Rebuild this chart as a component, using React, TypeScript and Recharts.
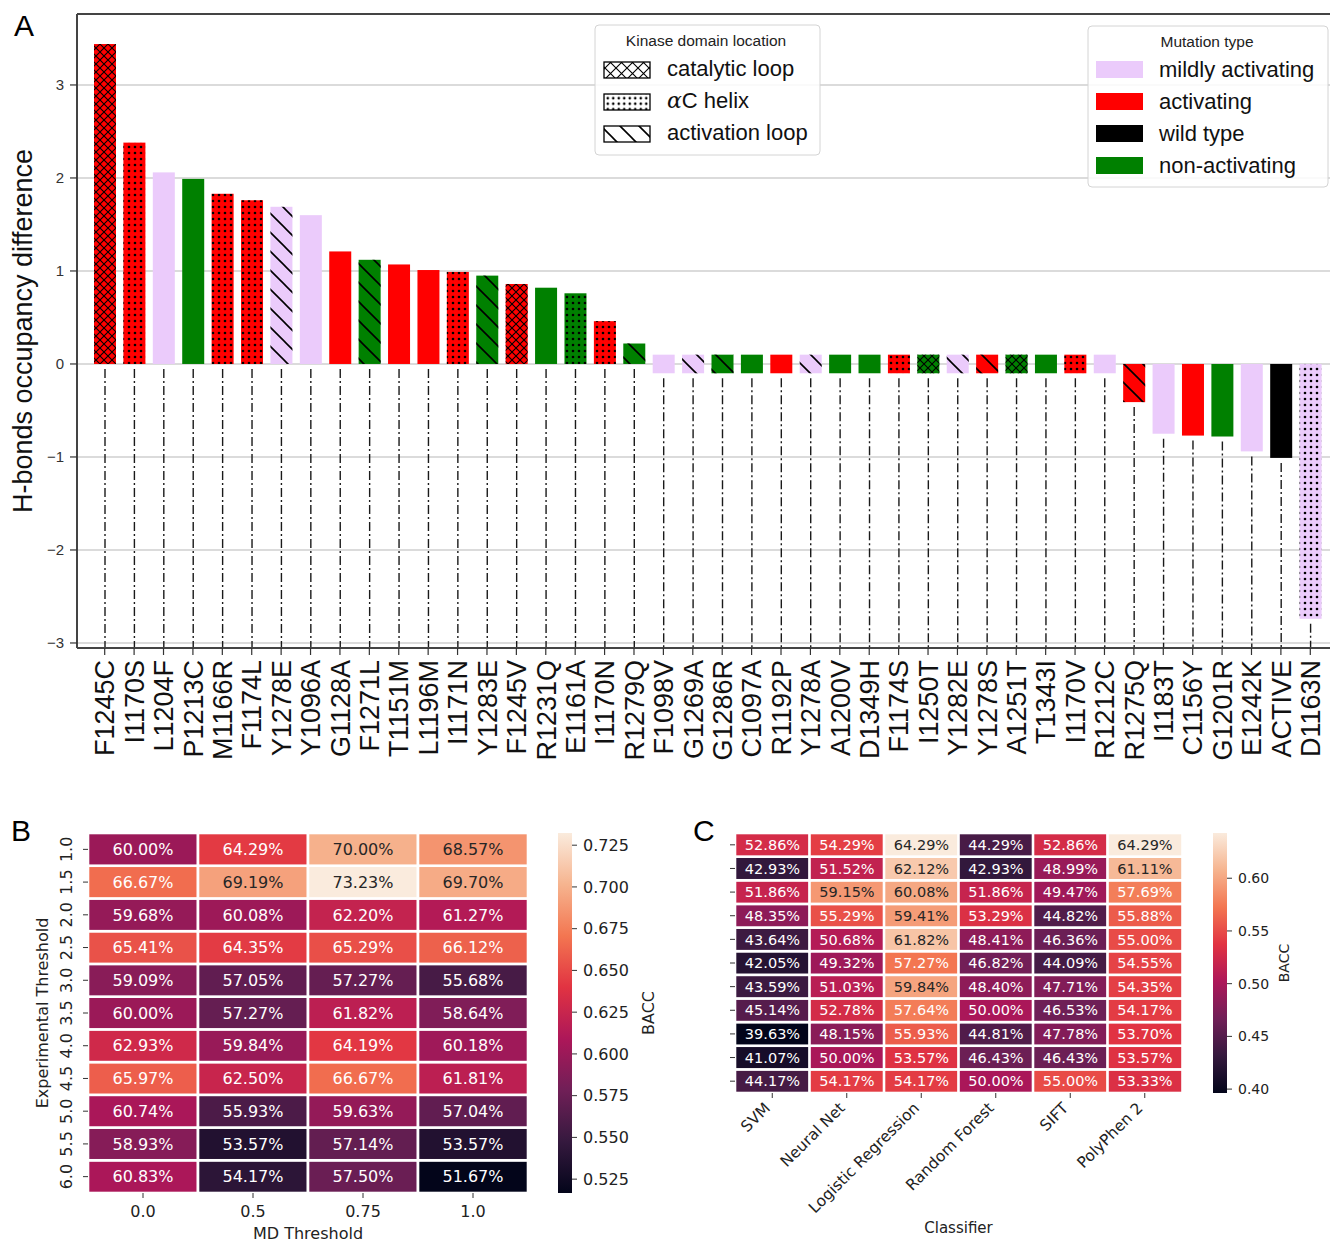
import React from 'react';
import { BarChart, Bar, XAxis, YAxis, CartesianGrid, ReferenceLine } from 'recharts';

// ---------- panel A ----------
const mutations = [
  'F1245C', 'I1170S', 'L1204F', 'P1213C', 'M1166R', 'F1174L', 'Y1278E', 'Y1096A', 'G1128A', 'F1271L',
  'T1151M', 'L1196M', 'I1171N', 'Y1283E', 'F1245V', 'R1231Q', 'E1161A', 'I1170N', 'R1279Q', 'F1098V',
  'G1269A', 'G1286R', 'C1097A', 'R1192P', 'Y1278A', 'A1200V', 'D1349H', 'F1174S', 'I1250T', 'Y1282E',
  'Y1278S', 'A1251T', 'T1343I', 'I1170V', 'R1212C', 'R1275Q', 'I1183T', 'C1156Y', 'G1201R', 'E1242K',
  'ACTIVE', 'D1163N',
];

const hbondDiff = [
  3.44, 2.38, 2.06, 1.99, 1.83, 1.76, 1.69, 1.6, 1.21, 1.12,
  1.07, 1.01, 0.99, 0.95, 0.86, 0.82, 0.76, 0.46, 0.22, 0,
  0, 0, 0, 0, 0, 0, 0, 0, 0, 0,
  0, 0, 0, 0, 0, -0.41, -0.75, -0.77, -0.78, -0.94,
  -1.01, -2.74,
];

// act = activating, mild = mildly activating, non = non-activating, wt = wild type
const mutationTypes = [
  'act', 'act', 'mild', 'non', 'act', 'act', 'mild', 'mild', 'act', 'non',
  'act', 'act', 'act', 'non', 'act', 'non', 'non', 'act', 'non', 'mild',
  'mild', 'non', 'non', 'act', 'mild', 'non', 'non', 'act', 'non', 'mild',
  'act', 'non', 'non', 'act', 'mild', 'act', 'mild', 'act', 'non', 'mild',
  'wt', 'mild',
];

// cat = catalytic loop, helix = aC helix, loop = activation loop
const domainLocations = [
  'cat', 'helix', '', '', 'helix', 'helix', 'loop', '', '', 'loop',
  '', '', 'helix', 'loop', 'cat', '', 'helix', 'helix', 'loop', '',
  'loop', 'loop', '', '', 'loop', '', '', 'helix', 'cat', 'loop',
  'loop', 'cat', '', 'helix', '', 'loop', '', '', '', '',
  '', 'helix',
];

const yTicksA = [-3, -2, -1, 0, 1, 2, 3];

// ---------- panel B ----------
const mdThresholds = ['0.0', '0.5', '0.75', '1.0'];
const expThresholds = ['1.0', '1.5', '2.0', '2.5', '3.0', '3.5', '4.0', '4.5', '5.0', '5.5', '6.0'];
const baccB = [
  [60.0, 64.29, 70.0, 68.57],
  [66.67, 69.19, 73.23, 69.7],
  [59.68, 60.08, 62.2, 61.27],
  [65.41, 64.35, 65.29, 66.12],
  [59.09, 57.05, 57.27, 55.68],
  [60.0, 57.27, 61.82, 58.64],
  [62.93, 59.84, 64.19, 60.18],
  [65.97, 62.5, 66.67, 61.81],
  [60.74, 55.93, 59.63, 57.04],
  [58.93, 53.57, 57.14, 53.57],
  [60.83, 54.17, 57.5, 51.67],
];
const cbTicksB = [0.525, 0.55, 0.575, 0.6, 0.625, 0.65, 0.675, 0.7, 0.725];

// ---------- panel C ----------
const classifiers = ['SVM', 'Neural Net', 'Logistic Regression', 'Random Forest', 'SIFT', 'PolyPhen 2'];
const rowsC = ['1.0', '1.5', '2.0', '2.5', '3.0', '3.5', '4.0', '4.5', '5.0', '5.5', '6.0'];
const baccC = [
  [52.86, 54.29, 64.29, 44.29, 52.86, 64.29],
  [42.93, 51.52, 62.12, 42.93, 48.99, 61.11],
  [51.86, 59.15, 60.08, 51.86, 49.47, 57.69],
  [48.35, 55.29, 59.41, 53.29, 44.82, 55.88],
  [43.64, 50.68, 61.82, 48.41, 46.36, 55.0],
  [42.05, 49.32, 57.27, 46.82, 44.09, 54.55],
  [43.59, 51.03, 59.84, 48.4, 47.71, 54.35],
  [45.14, 52.78, 57.64, 50.0, 46.53, 54.17],
  [39.63, 48.15, 55.93, 44.81, 47.78, 53.7],
  [41.07, 50.0, 53.57, 46.43, 46.43, 53.57],
  [44.17, 54.17, 54.17, 50.0, 55.0, 53.33],
];
const cbTicksC = [0.4, 0.45, 0.5, 0.55, 0.6];

// ---------- styling ----------
const SANS = '"Liberation Sans", Arial, Helvetica, sans-serif';
const DEJAVU = '"DejaVu Sans", sans-serif';

const typeColors: Record<string, string> = {
  act: '#ff0000',
  mild: '#ebcbfb',
  non: '#008000',
  wt: '#000000',
};

const ZERO_BOX = 0.1; // zero-valued bars are drawn as a small box around 0

const ROCKET = ['#03051a', '#35193e', '#701f57', '#ad1759', '#e13342', '#f37651', '#f6b48f', '#faebdd'];
const ROCKET_POS = [0, 1 / 7, 2 / 7, 3 / 7, 4 / 7, 5 / 7, 6 / 7, 1];

const hexRgb = (h: string) => [1, 3, 5].map((i) => parseInt(h.slice(i, i + 2), 16));

function rocket(t: number) {
  const v = Math.max(0, Math.min(1, t));
  let k = 0;
  while (k < ROCKET_POS.length - 2 && v > ROCKET_POS[k + 1]) k++;
  const f = (v - ROCKET_POS[k]) / (ROCKET_POS[k + 1] - ROCKET_POS[k]);
  const a = hexRgb(ROCKET[k]);
  const b = hexRgb(ROCKET[k + 1]);
  const c = a.map((x, i) => Math.round(x + (b[i] - x) * f));
  return `rgb(${c[0]},${c[1]},${c[2]})`;
}

function textOn(rgb: string) {
  const c = rgb.match(/\d+/g)!.map((x) => {
    const s = Number(x) / 255;
    return s <= 0.03928 ? s / 12.92 : Math.pow((s + 0.055) / 1.055, 2.4);
  });
  const lum = 0.2126 * c[0] + 0.7152 * c[1] + 0.0722 * c[2];
  return lum > 0.408 ? '#262626' : '#ffffff';
}

const HatchDefs = ({ prefix, cross, dots, diag }: { prefix: string; cross: number; dots: number; diag: number }) => (
  <defs>
    <pattern id={`${prefix}-cat`} patternUnits="userSpaceOnUse" width={cross} height={cross}>
      <path d={`M-1,-1 L${cross + 1},${cross + 1} M${cross + 1},-1 L-1,${cross + 1}`} stroke="#000" strokeWidth={1.1} />
    </pattern>
    <pattern id={`${prefix}-helix`} patternUnits="userSpaceOnUse" width={dots} height={dots}>
      <circle cx={dots / 2} cy={dots / 2} r={1.3} fill="#000" />
    </pattern>
    <pattern id={`${prefix}-loop`} patternUnits="userSpaceOnUse" width={diag} height={diag}>
      <path d={`M-1,-1 L${diag + 1},${diag + 1} M-2,${diag - 2} L2,${diag + 2} M${diag - 2},-2 L${diag + 2},2`} stroke="#000" strokeWidth={1.6} />
    </pattern>
  </defs>
);

const chartA = mutations.map((m, i) => {
  const v = hbondDiff[i];
  return {
    name: m,
    span: v === 0 ? [-ZERO_BOX, ZERO_BOX] : v > 0 ? [0, v] : [v, 0],
    type: mutationTypes[i],
    loc: domainLocations[i],
  };
});

const MutationBar = (props: any) => {
  const { x, y, width, height, payload, background } = props;
  const top = Math.min(y, y + height);
  const h = Math.abs(height);
  const cx = x + width / 2;
  const bottom = background ? background.y + background.height : 648;
  return (
    <g>
      <line x1={cx} x2={cx} y1={top + h + 5} y2={bottom} stroke="#1a1a1a" strokeWidth={1.4} strokeDasharray="9 3 2 3" />
      <rect x={x} y={top} width={width} height={h} fill={typeColors[payload.type]} />
      {payload.loc ? <rect x={x} y={top} width={width} height={h} fill={`url(#bar-${payload.loc})`} /> : null}
    </g>
  );
};

const MutationTick = ({ x, y, payload }: any) => (
  <text transform={`translate(${x},${y + 3}) rotate(-90)`} textAnchor="end" dy="0.36em" fontSize={27} fill="#111" fontFamily={SANS}>
    {payload.value}
  </text>
);

const fmtMinus = (v: number) => (v < 0 ? `\u2212${Math.abs(v)}` : `${v}`);

const PanelA = () => (
  <BarChart width={1330} height={780} data={chartA} margin={{ top: 14, right: 0, bottom: 0, left: 0 }}>
    <HatchDefs prefix="bar" cross={8} dots={6} diag={19} />
    <CartesianGrid vertical={false} stroke="#cfcfcf" strokeWidth={1.5} />
    <XAxis
      dataKey="name"
      interval={0}
      height={132}
      padding={{ left: 13, right: 5 }}
      tickSize={7}
      tickLine={{ stroke: '#333', strokeWidth: 1.2 }}
      axisLine={{ stroke: '#444', strokeWidth: 2 }}
      tick={<MutationTick />}
    />
    <YAxis
      type="number"
      domain={[-3.054, 3.763]}
      allowDataOverflow
      ticks={yTicksA}
      width={77}
      tickSize={7}
      tickMargin={6}
      tickLine={{ stroke: '#333', strokeWidth: 1.2 }}
      axisLine={{ stroke: '#444', strokeWidth: 2 }}
      tickFormatter={fmtMinus}
      tick={{ fontSize: 15, fill: '#333', fontFamily: SANS }}
      label={(p: any) => {
        const vb = p.viewBox;
        return (
          <text transform={`translate(22,${vb.y + vb.height / 2}) rotate(-90)`} textAnchor="middle" dy="0.36em" fontSize={27} fill="#111" fontFamily={SANS}>
            H-bonds occupancy difference
          </text>
        );
      }}
    />
    <ReferenceLine y={3.763} stroke="#444" strokeWidth={2} />
    <Bar dataKey="span" barSize={22} isAnimationActive={false} shape={<MutationBar />} />
  </BarChart>
);

const LegendSwatch = ({ x, y, w, h, loc }: any) => (
  <g>
    <rect x={x} y={y} width={w} height={h} fill="#fff" stroke="#000" strokeWidth={1.3} />
    <rect x={x} y={y} width={w} height={h} fill={`url(#lg-${loc})`} />
  </g>
);

const DomainLegend = () => (
  <svg width={227} height={132} style={{ position: 'absolute', left: 594, top: 24 }}>
    <HatchDefs prefix="lg" cross={11} dots={5.5} diag={19} />
    <rect x={1} y={1} width={225} height={130} rx={4} fill="rgba(255,255,255,0.85)" stroke="#d4d4d4" />
    <text x={112} y={22} textAnchor="middle" fontSize={15.5} fill="#222" fontFamily={SANS}>Kinase domain location</text>
    <LegendSwatch x={10} y={38} w={46} h={16} loc="cat" />
    <text x={73} y={52} fontSize={22} fill="#111" fontFamily={SANS}>catalytic loop</text>
    <LegendSwatch x={10} y={70} w={46} h={16} loc="helix" />
    <text x={73} y={84} fontSize={22} fill="#111" fontFamily={SANS}>
      <tspan fontFamily='"DejaVu Serif", serif' fontStyle="italic">α</tspan>C helix
    </text>
    <LegendSwatch x={10} y={102} w={46} h={16} loc="loop" />
    <text x={73} y={116} fontSize={22} fill="#111" fontFamily={SANS}>activation loop</text>
  </svg>
);

const typeLegend = [
  { key: 'mild', label: 'mildly activating' },
  { key: 'act', label: 'activating' },
  { key: 'wt', label: 'wild type' },
  { key: 'non', label: 'non-activating' },
];

const TypeLegend = () => (
  <svg width={243} height={164} style={{ position: 'absolute', left: 1087, top: 25 }}>
    <rect x={1} y={1} width={240} height={161} rx={4} fill="rgba(255,255,255,0.85)" stroke="#d4d4d4" />
    <text x={120} y={22} textAnchor="middle" fontSize={15.5} fill="#222" fontFamily={SANS}>Mutation type</text>
    {typeLegend.map((t, i) => (
      <g key={t.key}>
        <rect x={9} y={36 + i * 32} width={47} height={17} fill={typeColors[t.key]} />
        <text x={72} y={52 + i * 32} fontSize={22} fill="#111" fontFamily={SANS}>{t.label}</text>
      </g>
    ))}
  </svg>
);

// ---------- heatmaps ----------
const HeatCell = (props: any) => {
  const { x, y, width, height, value, vmin, vmax, fontSize } = props;
  const fill = rocket((value / 100 - vmin) / (vmax - vmin));
  return (
    <g>
      <rect x={x} y={y} width={width} height={height} fill={fill} stroke="#fff" strokeWidth={2.6} />
      <text x={x + width / 2} y={y + height / 2} dy="0.36em" textAnchor="middle" fontSize={fontSize} fill={textOn(fill)} fontFamily={DEJAVU}>
        {value.toFixed(2)}%
      </text>
    </g>
  );
};

const Heatmap = (p: any) => {
  const { rows, cols, values, width, height, margin, yAxisWidth, xAxisHeight, cellFont, xTick, yTick, xLabel, yLabel } = p;
  const flat: number[] = values.flat();
  const vmin = Math.min(...flat) / 100;
  const vmax = Math.max(...flat) / 100;
  const n = rows.length;
  const table = cols.map((c: string, j: number) => {
    const entry: Record<string, any> = { col: c };
    rows.forEach((_: string, i: number) => {
      entry[`u${i}`] = 1;
      entry[`v${i}`] = values[i][j];
    });
    return entry;
  });
  const ticks = rows.map((_: string, i: number) => n - i - 0.5);
  const order = rows.map((_: string, k: number) => n - 1 - k);
  return (
    <BarChart width={width} height={height} data={table} margin={margin} barCategoryGap={0} barGap={0}>
      <XAxis dataKey="col" interval={0} height={xAxisHeight} axisLine={false} tickSize={5} tickLine={{ stroke: '#333' }} tick={xTick} label={xLabel} />
      <YAxis
        type="number"
        domain={[0, n]}
        allowDataOverflow
        ticks={ticks}
        width={yAxisWidth}
        axisLine={false}
        tickSize={5}
        tickLine={{ stroke: '#333' }}
        tick={yTick}
        label={yLabel}
      />
      {order.map((i: number) => (
        <Bar
          key={i}
          dataKey={`u${i}`}
          stackId="h"
          isAnimationActive={false}
          shape={(sp: any) => <HeatCell {...sp} value={sp.payload[`v${i}`]} vmin={vmin} vmax={vmax} fontSize={cellFont} />}
        />
      ))}
    </BarChart>
  );
};

const Colorbar = (p: any) => {
  const { id, values, ticks, digits, width, height, margin, axisWidth, fontSize, labelX } = p;
  const flat: number[] = values.flat();
  const vmin = Math.min(...flat) / 100;
  const vmax = Math.max(...flat) / 100;
  return (
    <BarChart width={width} height={height} data={[{ k: 'BACC', span: [vmin, vmax] }]} margin={margin} barCategoryGap={0}>
      <defs>
        <linearGradient id={id} x1="0" y1="1" x2="0" y2="0">
          {ROCKET.map((c, i) => (
            <stop key={i} offset={ROCKET_POS[i]} stopColor={c} />
          ))}
        </linearGradient>
      </defs>
      <XAxis dataKey="k" hide />
      <YAxis
        orientation="right"
        type="number"
        domain={[vmin, vmax]}
        allowDataOverflow
        ticks={ticks}
        tickFormatter={(v: number) => v.toFixed(digits)}
        width={axisWidth}
        axisLine={false}
        tickSize={5}
        tickMargin={6}
        tickLine={{ stroke: '#333' }}
        tick={{ fontSize, fill: '#222', fontFamily: DEJAVU }}
        label={(lp: any) => {
          const vb = lp.viewBox;
          return (
            <text transform={`translate(${labelX},${vb.y + vb.height / 2}) rotate(-90)`} textAnchor="middle" dy="0.36em" fontSize={fontSize} fill="#222" fontFamily={DEJAVU}>
              BACC
            </text>
          );
        }}
      />
      <Bar dataKey="span" fill={`url(#${id})`} isAnimationActive={false} />
    </BarChart>
  );
};

const BYTick = ({ x, y, payload }: any) => {
  const idx = Math.round(expThresholds.length - 0.5 - payload.value);
  return (
    <text transform={`translate(${x - 15},${y}) rotate(-90)`} textAnchor="middle" dy="0.36em" fontSize={16} fill="#222" fontFamily={DEJAVU}>
      {expThresholds[idx]}
    </text>
  );
};

const BXTick = ({ x, y, payload }: any) => (
  <text x={x} y={y + 17} textAnchor="middle" fontSize={16} fill="#222" fontFamily={DEJAVU}>
    {payload.value}
  </text>
);

const CXTick = ({ x, y, payload }: any) => (
  <text transform={`translate(${x - 5},${y + 5}) rotate(-45)`} textAnchor="end" dy="0.36em" fontSize={15.5} fill="#222" fontFamily={DEJAVU}>
    {payload.value}
  </text>
);

const NoTick = () => <g />;

const letter = (t: string, left: number, top: number, size: number) => (
  <div style={{ position: 'absolute', left, top, fontSize: size, lineHeight: 1, fontFamily: SANS, color: '#000' }}>{t}</div>
);

export default function App() {
  return (
    <div style={{ position: 'absolute', left: 0, top: 0, width: 1330, height: 1243, background: '#fff', overflow: 'hidden' }}>
      <div style={{ position: 'absolute', left: 0, top: 0 }}>
        <PanelA />
      </div>
      <DomainLegend />
      <TypeLegend />

      <div style={{ position: 'absolute', left: 0, top: 800 }}>
        <Heatmap
          rows={expThresholds}
          cols={mdThresholds}
          values={baccB}
          width={540}
          height={443}
          margin={{ top: 33, right: 12, bottom: 0, left: 0 }}
          yAxisWidth={88}
          xAxisHeight={50}
          cellFont={16}
          xTick={<BXTick />}
          yTick={<BYTick />}
          xLabel={(lp: any) => {
            const vb = lp.viewBox;
            return (
              <text x={vb.x + vb.width / 2} y={vb.y + 46} textAnchor="middle" fontSize={16} fill="#222" fontFamily={DEJAVU}>
                MD Threshold
              </text>
            );
          }}
          yLabel={(lp: any) => {
            const vb = lp.viewBox;
            return (
              <text transform={`translate(42,${vb.y + vb.height / 2}) rotate(-90)`} textAnchor="middle" dy="0.36em" fontSize={16} fill="#222" fontFamily={DEJAVU}>
                Experimental Threshold
              </text>
            );
          }}
        />
      </div>
      <div style={{ position: 'absolute', left: 550, top: 800 }}>
        <Colorbar
          id="cbB"
          values={baccB}
          ticks={cbTicksB}
          digits={3}
          width={120}
          height={443}
          margin={{ top: 33, right: 0, bottom: 50, left: 8 }}
          axisWidth={98}
          fontSize={16}
          labelX={98}
        />
      </div>

      <div style={{ position: 'absolute', left: 690, top: 800 }}>
        <Heatmap
          rows={rowsC}
          cols={classifiers}
          values={baccC}
          width={500}
          height={443}
          margin={{ top: 33, right: 8, bottom: 0, left: 0 }}
          yAxisWidth={45}
          xAxisHeight={150}
          cellFont={14.5}
          xTick={<CXTick />}
          yTick={<NoTick />}
          xLabel={(lp: any) => {
            const vb = lp.viewBox;
            return (
              <text x={vb.x + vb.width / 2} y={vb.y + 140} textAnchor="middle" fontSize={15} fill="#222" fontFamily={DEJAVU}>
                Classifier
              </text>
            );
          }}
        />
      </div>
      <div style={{ position: 'absolute', left: 1205, top: 800 }}>
        <Colorbar
          id="cbC"
          values={baccC}
          ticks={cbTicksC}
          digits={2}
          width={125}
          height={443}
          margin={{ top: 33, right: 0, bottom: 150, left: 8 }}
          axisWidth={103}
          fontSize={14}
          labelX={79}
        />
      </div>

      {letter('A', 14, 11, 30)}
      {letter('B', 11, 816, 30)}
      {letter('C', 693, 816, 30)}
    </div>
  );
}
